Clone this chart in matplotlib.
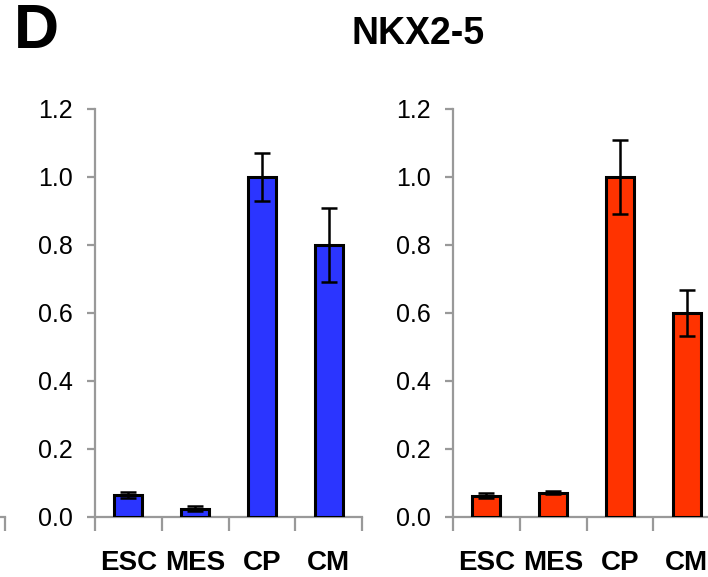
import numpy as np
import matplotlib
matplotlib.use('Agg')
import matplotlib.pyplot as plt
from matplotlib.ticker import FixedLocator, NullFormatter

plt.rcParams['font.family'] = ['Liberation Sans', 'DejaVu Sans']

stages = ['ESC', 'MES', 'CP', 'CM']

# left panel (blue)
blue_vals = [0.065, 0.025, 1.00, 0.80]
blue_err = [0.010, 0.008, 0.070, 0.110]

# right panel (red)
red_vals = [0.063, 0.072, 1.00, 0.60]
red_err = [0.007, 0.004, 0.110, 0.068]

yticks = [0.0, 0.2, 0.4, 0.6, 0.8, 1.0, 1.2]
title = 'NKX2-5'
panel_letter = 'D'

W, H = 708, 577
fig = plt.figure(figsize=(W / 100, H / 100), dpi=100)

axis_grey = '#999999'


def style_axes(ax, labels=True):
    for s in ['top', 'right']:
        ax.spines[s].set_visible(False)
    for s in ['left', 'bottom']:
        ax.spines[s].set_color(axis_grey)
        ax.spines[s].set_linewidth(1.6)
    ax.set_xlim(-0.5, len(stages) - 0.5)
    ax.set_ylim(0, 1.2)
    ax.xaxis.set_minor_locator(FixedLocator(np.arange(-0.5, len(stages), 1.0)))
    ax.xaxis.set_minor_formatter(NullFormatter())
    ax.tick_params(axis='x', which='minor', direction='out', length=10,
                   width=1.6, color=axis_grey)
    ax.patch.set_alpha(0)
    if not labels:
        ax.set_xticks([])
        ax.set_yticks([])
        return
    ax.set_yticks(yticks)
    ax.set_yticklabels([f'{t:.1f}' for t in yticks])
    ax.tick_params(axis='y', direction='out', length=6, width=1.6,
                   color=axis_grey, labelsize=18, pad=10)
    x = np.arange(len(stages))
    ax.set_xticks(x)
    ax.set_xticklabels(stages, fontweight='bold')
    ax.tick_params(axis='x', which='major', length=0, labelsize=20, pad=23.5)


def draw_bars(ax, vals, errs, color):
    x = np.arange(len(stages))
    ax.bar(x, vals, width=0.42, color=color, edgecolor='black', linewidth=2.2,
           zorder=3)
    ax.errorbar(x, vals, yerr=errs, fmt='none', ecolor='black', elinewidth=1.8,
                capsize=5.8, capthick=1.8, zorder=4)


ax_w = 267 / W
ax_h = 408 / H
ax_y0 = (H - 517) / H

# previous panel, cut off at the left edge (only its axis end shows)
ax_prev = fig.add_axes([(5 - 267) / W, ax_y0, ax_w, ax_h])
style_axes(ax_prev, labels=False)

ax_l = fig.add_axes([95 / W, ax_y0, ax_w, ax_h])
style_axes(ax_l)
draw_bars(ax_l, blue_vals, blue_err, '#2B35FF')

ax_r = fig.add_axes([453 / W, ax_y0, ax_w, ax_h])
style_axes(ax_r)
draw_bars(ax_r, red_vals, red_err, '#FF3300')

fig.text(418 / W, 1 - 34 / H, title, ha='center', va='center',
         fontsize=27, fontweight='bold')
fig.text(14 / W, 1 - 2 / H, panel_letter, ha='left', va='top',
         fontsize=45, fontweight='bold')

fig.savefig('out.png', dpi=100)
